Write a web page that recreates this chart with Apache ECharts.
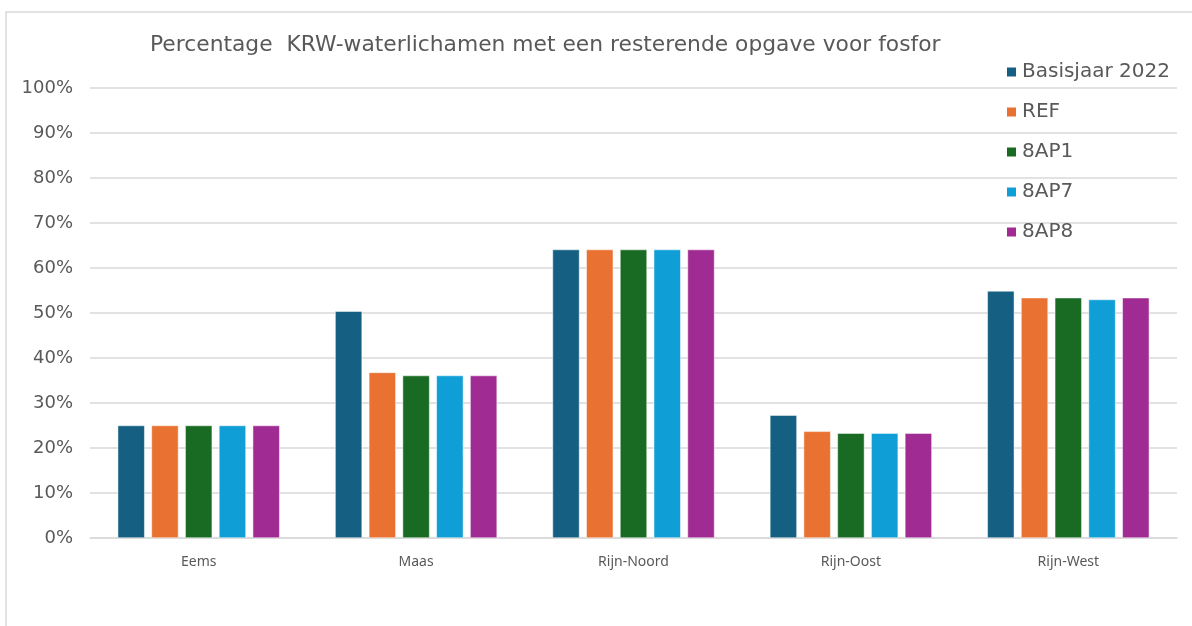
<!DOCTYPE html>
<html>
<head>
<meta charset="utf-8">
<script src="https://cdn.jsdelivr.net/npm/echarts@6/dist/echarts.min.js"></script>
<style>
  html, body { margin: 0; padding: 0; background: #fff; }
  #chart { width: 1192px; height: 626px; }
</style>
</head>
<body>
<div id="chart"></div>
<script>
// stroomgebieden
const categories = ['Eems', 'Maas', 'Rijn-Noord', 'Rijn-Oost', 'Rijn-West']
const seriesNames = ['Basisjaar 2022', 'REF', '8AP1', '8AP7', '8AP8']
const colors = ['#156082', '#E97132', '#196B24', '#0F9ED5', '#A02B93']

// percentages per scenario
const basisjaar = [25.0, 50.4, 64.1, 27.3, 54.9]
const ref = [25.0, 36.8, 64.1, 23.7, 53.4]
const ap1 = [25.0, 36.1, 64.1, 23.3, 53.4]
const ap7 = [25.0, 36.1, 64.1, 23.3, 53.0]
const ap8 = [25.0, 36.1, 64.1, 23.3, 53.4]

const yTicks = [0, 10, 20, 30, 40, 50, 60, 70, 80, 90, 100]

const allValues = [basisjaar, ref, ap1, ap7, ap8]
const txt = '#595959'
const wideFont = '"DejaVu Sans", sans-serif'

const chart = echarts.init(document.getElementById('chart'))

const option = {
    animation: false,
    backgroundColor: '#fff',
    title: {
        text: 'Percentage  KRW-waterlichamen met een resterende opgave voor fosfor',
        left: 145,
        top: 29,
        textStyle: { color: txt, fontSize: 21.8, fontWeight: 'normal', fontFamily: wideFont }
    },
    legend: {
        orient: 'vertical',
        left: 1000,
        top: 57,
        itemWidth: 11,
        itemHeight: 11,
        itemGap: 20,
        icon: 'rect',
        textStyle: { color: txt, fontSize: 20, fontFamily: wideFont, lineHeight: 20 },
        data: seriesNames
    },
    grid: {
        left: 90,
        right: 15,
        top: 88,
        bottom: 88
    },
    xAxis: {
        type: 'category',
        data: categories,
        axisLine: { lineStyle: { color: '#d9d9d9', width: 1.5 } },
        axisTick: { show: false },
        axisLabel: { color: txt, fontSize: 14, margin: 17, fontFamily: '"Noto Sans", sans-serif' }
    },
    yAxis: {
        type: 'value',
        min: yTicks[0],
        max: yTicks[yTicks.length - 1],
        interval: 10,
        axisLine: { show: false },
        axisTick: { show: false },
        splitLine: { lineStyle: { color: '#d9d9d9', width: 1.5 } },
        axisLabel: {
            color: txt, fontSize: 18, margin: 17, fontFamily: wideFont,
            formatter: v => v + '%'
        }
    },
    series: seriesNames.map((name, i) => ({
        name: name,
        type: 'bar',
        data: allValues[i],
        barWidth: 27,
        barGap: '25%',
        itemStyle: { color: colors[i], borderColor: '#fff', borderWidth: 0.5 }
    })),
    graphic: [{
        type: 'rect',
        shape: { x: 6, y: 12, width: 1200, height: 630 },
        style: { fill: 'none', stroke: '#d9d9d9', lineWidth: 1.5 },
        silent: true,
        z: -1
    }]
}

chart.setOption(option)
</script>
</body>
</html>
